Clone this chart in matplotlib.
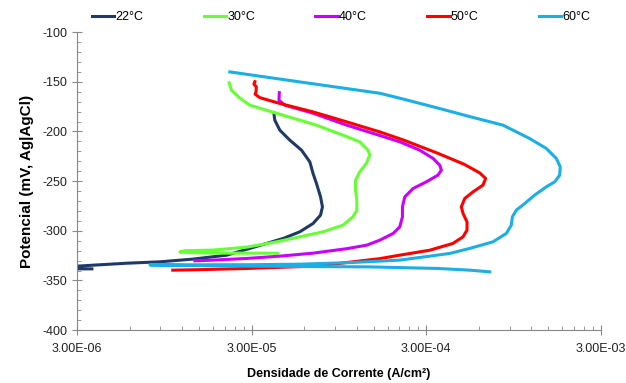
import numpy as np
import matplotlib
matplotlib.use("Agg")
from matplotlib import pyplot as plt
from matplotlib.ticker import FixedLocator, FuncFormatter

plt.rcParams['font.family'] = ['Liberation Sans', 'DejaVu Sans']
plt.rcParams['axes.unicode_minus'] = False

# current density (A/cm2) and potential (mV vs Ag|AgCl)
i_22 = [4.02e-5, 4.07e-5, 4.35e-5, 4.96e-5, 5.79e-5, 6.46e-5, 6.74e-5, 7.05e-5, 7.44e-5,
        7.63e-5, 7.44e-5, 6.74e-5, 5.66e-5, 4.54e-5, 3.65e-5, 2.93e-5, 2.16e-5, 1.38e-5,
        8.96e-6, 5.8e-6, 3.7e-6, 2.74e-6, 2.56e-6, 2.74e-6, 3.65e-6]
e_22 = [-181.2, -188.6, -198.7, -208.7, -218.8, -230.6, -242.2, -252.3, -265.8,
        -275.9, -284.2, -292.6, -301, -307.7, -312.7, -317.7, -324.5, -328.5,
        -331.2, -332.6, -334.6, -336, -337.6, -338.3, -338.3]

i_30 = [2.23e-5, 2.30e-5, 2.57e-5, 2.93e-5, 4.54e-5, 7.05e-5, 1.0e-4, 1.248e-4, 1.39e-4,
        1.424e-4, 1.36e-4, 1.248e-4, 1.18e-4, 1.18e-4, 1.2e-4, 1.2e-4, 1.14e-4, 1.0e-4,
        7.69e-5, 5.66e-5, 4.16e-5, 2.82e-5, 1.8e-5, 1.245e-5, 1.165e-5, 1.517e-5, 2.5e-5,
        4.24e-5]
e_30 = [-151, -158.4, -166.4, -173.5, -183.6, -193.6, -203.7, -210.4, -218.8,
        -223.8, -232.2, -240.6, -249, -259, -269.1, -279.2, -285.9, -294.3,
        -301, -306, -311.1, -316.4, -319.4, -320, -321.3, -322.3, -322.5,
        -322.5]

i_40 = [4.32e-5, 4.3e-5, 4.65e-5, 6.72e-5, 1.05e-4, 1.625e-4, 2.115e-4, 2.75e-4, 3.28e-4,
        3.58e-4, 3.66e-4, 3.5e-4, 3.0e-4, 2.52e-4, 2.26e-4, 2.19e-4, 2.19e-4, 2.115e-4,
        1.94e-4, 1.625e-4, 1.37e-4, 1.05e-4, 6.72e-5, 4.35e-5, 2.82e-5, 1.8e-5, 1.42e-5]
e_40 = [-160.9, -168.5, -173.5, -181.5, -193.6, -204, -210.4, -218.8, -227.1,
        -233.9, -238.9, -243.9, -250.7, -257.4, -265.8, -275.9, -285.9, -296,
        -302.6, -309.4, -314.4, -318, -322.5, -325.5, -327.8, -329.5, -330.2]

i_50 = [3.13e-5, 3.09e-5, 3.19e-5, 3.18e-5, 3.14e-5, 3.34e-5, 4.35e-5, 6.72e-5, 1.05e-4,
        1.625e-4, 2.23e-4, 3.51e-4, 4.94e-4, 6.07e-4, 6.56e-4, 6.33e-4, 5.55e-4, 4.98e-4,
        4.76e-4, 4.87e-4, 5.13e-4, 5.13e-4, 4.87e-4, 4.26e-4, 3.14e-4, 2.115e-4, 1.625e-4,
        8.74e-5, 6.72e-5, 2.82e-5, 1.517e-5, 1.06e-5]
e_50 = [-149.8, -152.3, -154.9, -159.9, -162.4, -165.9, -171.8, -180.2, -190.3,
        -200.4, -208.7, -222.1, -233, -241.7, -247.3, -254, -260.8, -267.4,
        -275.9, -282.5, -291, -299.3, -306, -312.7, -319.5, -324.5, -328,
        -333.6, -335.6, -337.9, -339.1, -339.6]

i_60 = [2.25e-5, 6.05e-5, 1.625e-4, 2.23e-4, 3.51e-4, 5.32e-4, 8.24e-4, 1.17e-3, 1.46e-3,
        1.665e-3, 1.754e-3, 1.74e-3, 1.63e-3, 1.46e-3, 1.25e-3, 1.10e-3, 9.83e-4, 9.33e-4,
        9.2e-4, 8.62e-4, 7.22e-4, 5.32e-4, 4.08e-4, 2.115e-4, 1.094e-4, 5.66e-5, 2.93e-5,
        7.85e-6, 1.517e-5, 5.66e-5, 1.424e-4, 3.51e-4, 5.32e-4, 6.92e-4]
e_60 = [-140, -150.8, -161.5, -167.5, -176.5, -185, -193.6, -207, -217.1,
        -227.1, -235.6, -244, -250.7, -255.7, -264.1, -272.4, -279.2, -285.9,
        -294.3, -302.6, -311.1, -317.7, -322.8, -329.5, -332, -333.6, -334.1,
        -334.3, -335.1, -335.9, -336.3, -337.9, -339.6, -341.3]

labels = ['22°C', '30°C', '40°C', '50°C', '60°C']
colors = ['#1F3A68', '#66FF33', '#CC00FF', '#FF0000', '#1AAFE6']

x_ticks = [3e-6, 3e-5, 3e-4, 3e-3]

fig = plt.figure(figsize=(6.26, 3.83), dpi=100)
ax = fig.add_axes([0.123, 0.138, 0.837, 0.778])

series = [(i_22, e_22), (i_30, e_30), (i_40, e_40), (i_50, e_50), (i_60, e_60)]
for (xs, ys), lab, c in zip(series, labels, colors):
    ax.plot(xs, ys, color=c, lw=2.2, label=lab, solid_joinstyle='round')

ax.set_xscale('log')
ax.set_xlim(3e-6, 3e-3)
ax.set_ylim(-400, -100)

ax.xaxis.set_major_locator(FixedLocator(x_ticks))
minor = [k * t for t in x_ticks[:-1] for k in range(2, 10)]
ax.xaxis.set_minor_locator(FixedLocator(minor))
ax.xaxis.set_major_formatter(FuncFormatter(lambda v, p: '%.2E' % v))
ax.xaxis.set_minor_formatter(FuncFormatter(lambda v, p: ''))
ax.set_yticks(np.arange(-400, -99, 50))
ax.set_yticks(np.arange(-400, -99, 10), minor=True)

for s in ['top', 'right']:
    ax.spines[s].set_visible(False)
for s in ['left', 'bottom']:
    ax.spines[s].set_color('#888888')
ax.tick_params(which='major', direction='inout', length=7, color='#888888',
               labelsize=9, labelcolor='#222222')
ax.tick_params(which='minor', direction='in', length=3, color='#888888')
ax.tick_params(axis='x', pad=6)

ax.set_xlabel('Densidade de Corrente (A/cm²)', fontsize=9, fontweight='bold', labelpad=9)
ax.set_ylabel('Potencial (mV, Ag|AgCl)', fontsize=11, fontweight='bold', labelpad=6)

fig.legend(loc='center', bbox_to_anchor=(0.545, 0.955), ncol=5, frameon=False,
           fontsize=9, handlelength=1.8, handletextpad=0.1, columnspacing=4.8)

fig.savefig('out.png', dpi=100)
